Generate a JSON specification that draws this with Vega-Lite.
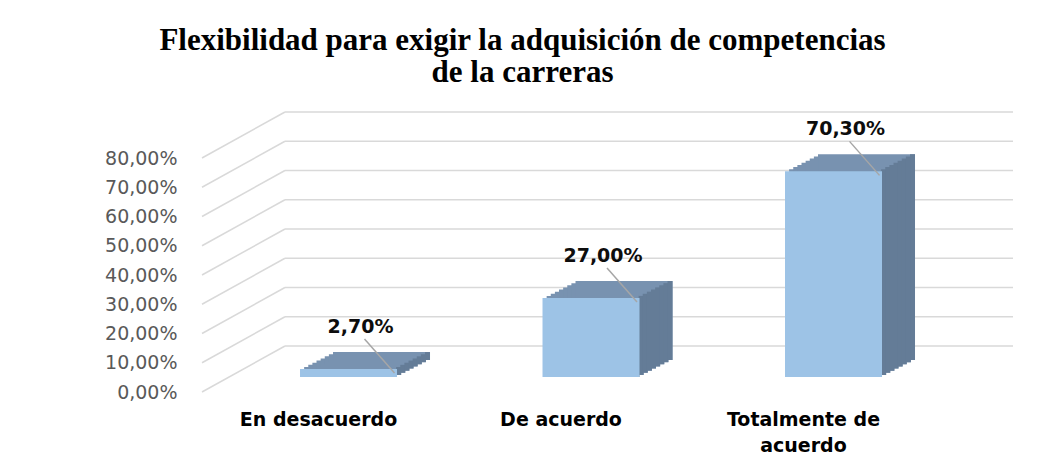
{
  "$schema": "https://vega.github.io/schema/vega-lite/v6.json",
  "width": 811,
  "height": 234,
  "autosize": "none",
  "padding": {"left": 202, "top": 158, "right": 35, "bottom": 66},
  "background": "white",
  "config": {
    "view": {"stroke": null},
    "locale": {"number": {"decimal": ",", "thousands": ".", "grouping": [3], "currency": ["", " €"]}},
    "axisY": {"title": null, "values": [0, 0.1, 0.2, 0.3, 0.4, 0.5, 0.6, 0.7, 0.8], "format": ".2%",
              "grid": false, "domain": false, "ticks": false, "labelPadding": 25, "labelOverlap": false,
              "labelFont": "DejaVu Sans", "labelFontSize": 19, "labelColor": "#595959"}
  },
  "title": {
    "text": ["Flexibilidad para exigir la adquisición de competencias", "de la carreras"],
    "font": "Liberation Serif",
    "fontSize": 31,
    "fontWeight": "bold",
    "color": "#000000",
    "lineHeight": 32,
    "anchor": "middle",
    "dx": -85,
    "offset": 22
  },
  "datasets": {
    "bars": [
      {"cat": "En desacuerdo", "v": 0.027},
      {"cat": "De acuerdo", "v": 0.27},
      {"cat": "Totalmente de acuerdo", "v": 0.703}
    ],
    "ticks": [
      {"t": 0}, {"t": 0.1}, {"t": 0.2}, {"t": 0.3}, {"t": 0.4},
      {"t": 0.5}, {"t": 0.6}, {"t": 0.7}, {"t": 0.8}
    ]
  },
  "resolve": {"scale": {"x": "independent"}},
  "layer": [
    {
      "data": {"name": "ticks"},
      "layer": [
        {
          "mark": {"type": "rule", "color": "#D9D9D9", "strokeWidth": 1.5, "y2Offset": -46},
          "encoding": {
            "x": {"datum": 0, "type": "quantitative", "scale": {"domain": [0, 1], "nice": false}, "axis": null},
            "x2": {"datum": 0.1023},
            "y": {"field": "t", "type": "quantitative", "scale": {"domain": [0, 0.8], "nice": false},
                  "axis": {"values": [0, 0.1, 0.2, 0.3, 0.4, 0.5, 0.6, 0.7, 0.8], "labelOverlap": false}},
            "y2": {"field": "t"}
          }
        },
        {
          "mark": {"type": "rule", "color": "#D9D9D9", "strokeWidth": 1.5, "yOffset": -46},
          "encoding": {
            "x": {"datum": 0.1023, "type": "quantitative", "scale": {"domain": [0, 1], "nice": false}, "axis": null},
            "x2": {"datum": 1},
            "y": {"field": "t", "type": "quantitative",
                  "axis": {"values": [0, 0.1, 0.2, 0.3, 0.4, 0.5, 0.6, 0.7, 0.8], "labelOverlap": false}}
          }
        }
      ]
    },
    {
      "data": {"name": "bars"},
      "encoding": {
        "x": {"field": "cat", "type": "nominal", "sort": null,
              "scale": {"paddingInner": 0.6, "paddingOuter": 0.4722, "align": 0.428},
              "axis": {"title": null, "domain": false, "ticks": false, "labelAngle": 0, "labelPadding": 18,
                       "labelOffset": -30, "labelFont": "DejaVu Sans", "labelFontWeight": "bold",
                       "labelFontSize": 19, "labelColor": "#000000", "labelLineHeight": 26, "labelLimit": 0,
                       "labelExpr": "datum.label == 'Totalmente de acuerdo' ? ['Totalmente de', 'acuerdo'] : datum.label"}},
        "y": {"field": "v", "type": "quantitative",
              "axis": {"values": [0, 0.1, 0.2, 0.3, 0.4, 0.5, 0.6, 0.7, 0.8], "labelOverlap": false}}
      },
      "layer": [
        {"mark": {"type": "bar", "color": "#7892B0", "xOffset": 4.125, "yOffset": -17.125, "y2Offset": -17.125}},
        {"mark": {"type": "bar", "color": "#7892B0", "xOffset": 8.25, "yOffset": -19.25, "y2Offset": -19.25}},
        {"mark": {"type": "bar", "color": "#7892B0", "xOffset": 12.375, "yOffset": -21.375, "y2Offset": -21.375}},
        {"mark": {"type": "bar", "color": "#7892B0", "xOffset": 16.5, "yOffset": -23.5, "y2Offset": -23.5}},
        {"mark": {"type": "bar", "color": "#7892B0", "xOffset": 20.625, "yOffset": -25.625, "y2Offset": -25.625}},
        {"mark": {"type": "bar", "color": "#7892B0", "xOffset": 24.75, "yOffset": -27.75, "y2Offset": -27.75}},
        {"mark": {"type": "bar", "color": "#7892B0", "xOffset": 28.875, "yOffset": -29.875, "y2Offset": -29.875}},
        {"mark": {"type": "bar", "color": "#7892B0", "xOffset": 33, "yOffset": -32, "y2Offset": -32}},
        {"mark": {"type": "bar", "color": "#647C97", "width": 5, "xOffset": 46, "yOffset": -15, "y2Offset": -15}},
        {"mark": {"type": "bar", "color": "#647C97", "width": 5, "xOffset": 50.125, "yOffset": -17.125, "y2Offset": -17.125}},
        {"mark": {"type": "bar", "color": "#647C97", "width": 5, "xOffset": 54.25, "yOffset": -19.25, "y2Offset": -19.25}},
        {"mark": {"type": "bar", "color": "#647C97", "width": 5, "xOffset": 58.375, "yOffset": -21.375, "y2Offset": -21.375}},
        {"mark": {"type": "bar", "color": "#647C97", "width": 5, "xOffset": 62.5, "yOffset": -23.5, "y2Offset": -23.5}},
        {"mark": {"type": "bar", "color": "#647C97", "width": 5, "xOffset": 66.625, "yOffset": -25.625, "y2Offset": -25.625}},
        {"mark": {"type": "bar", "color": "#647C97", "width": 5, "xOffset": 70.75, "yOffset": -27.75, "y2Offset": -27.75}},
        {"mark": {"type": "bar", "color": "#647C97", "width": 5, "xOffset": 74.875, "yOffset": -29.875, "y2Offset": -29.875}},
        {"mark": {"type": "bar", "color": "#647C97", "width": 5, "xOffset": 79, "yOffset": -32, "y2Offset": -32}},
        {"mark": {"type": "bar", "color": "#9DC3E6", "yOffset": -15, "y2Offset": -15}},
        {
          "mark": {"type": "rule", "color": "#A6A6A6", "strokeWidth": 1.5, "xOffset": 16, "x2Offset": 46, "yOffset": -45, "y2Offset": -11},
          "encoding": {"x2": {"field": "cat"}, "y2": {"field": "v"}}
        },
        {
          "mark": {"type": "text", "font": "DejaVu Sans", "fontWeight": "bold", "fontSize": 19, "color": "#0D0D0D",
                   "baseline": "alphabetic", "align": "center", "dx": 12, "dy": -51},
          "encoding": {"text": {"field": "v", "type": "quantitative", "format": ".2%"}}
        }
      ]
    }
  ]
}
